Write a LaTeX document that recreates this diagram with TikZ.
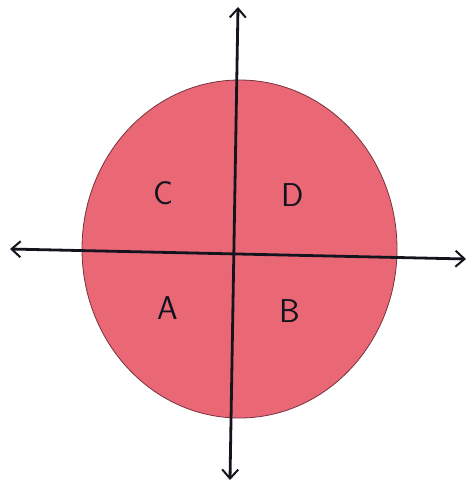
\documentclass[tikz,border=0pt]{standalone}
\usepackage{fontspec}
\setmainfont{DejaVu Sans}
\usetikzlibrary{arrows.meta}
\definecolor{disc}{RGB}{234,104,118}
\definecolor{rim}{RGB}{120,50,60}
\definecolor{ink}{RGB}{20,20,30}
\begin{document}
\begin{tikzpicture}[x=1pt,y=-1pt,
  axis/.style={draw=ink,line width=2.8pt,{Straight Barb[length=9pt,width=16pt,line width=2pt]}-{Straight Barb[length=9pt,width=16pt,line width=2pt]}},
  lbl/.style={text=ink,font=\fontsize{33}{33}\selectfont\sffamily}]
\useasboundingbox (0,0) rectangle (469,485);
\fill[white] (0,0) rectangle (469,485);
\draw[fill=disc,draw=rim,line width=0.8pt] (239.5,249) ellipse [x radius=157.5, y radius=169];
\coordinate (top) at (238,7);
\coordinate (bottom) at (230,480);
\coordinate (left) at (10,249);
\coordinate (right) at (466,259);
\draw[axis] (left) -- (right);
\draw[axis] (top) -- (bottom);
\node[lbl] (C) at (163,193) {C};
\node[lbl] (D) at (293,195) {D};
\node[lbl] (A) at (168,308) {A};
\node[lbl] (B) at (290,311) {B};
\end{tikzpicture}
\end{document}
